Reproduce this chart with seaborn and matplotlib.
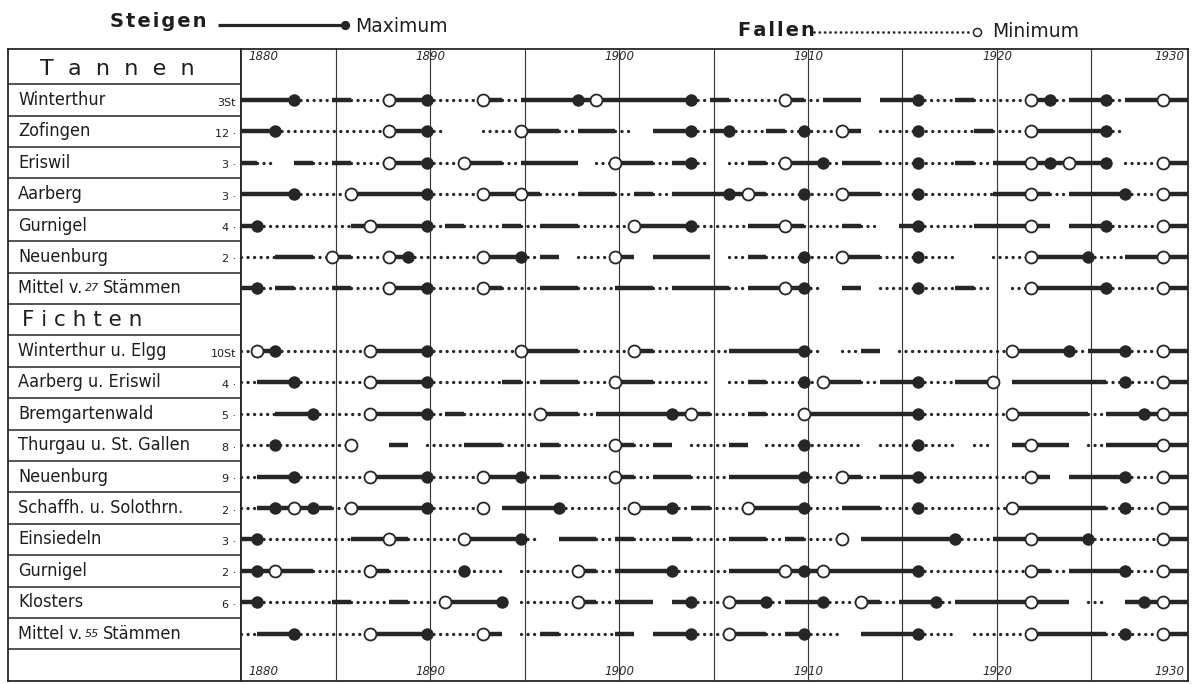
import matplotlib
matplotlib.use("Agg")
import matplotlib.pyplot as plt
import seaborn as sns
import pandas as pd

sns.set_theme(style="white")
plt.rcParams['font.family'] = ['DejaVu Sans']

# ---------------- data ----------------
YEAR0 = 1880
YEAR1 = 1930
tick_years = [1880, 1890, 1900, 1910, 1920, 1930]

tannen_names = ["Winterthur", "Zofingen", "Eriswil", "Aarberg", "Gurnigel",
                "Neuenburg", "Mittel v. 27 Stämmen"]
tannen_counts = ["3St", "12 ·", "3 ·", "3 ·", "4 ·", "2 ·", ""]
# one character per year Y (1880..1930): step ending at year Y
# '-' = Steigen (solid), '.' = Fallen (dotted), '_' = no line
tannen_steps = [
    "---..-..--|...-.-----|----.-...-|.--_--..-.|..-.--.---|-",
    "--......--|.__..--.--|._--.-..-.|..-_.....-|..----.___|_",
    "-._-.-..--|..--.---_.|--.-._.-.-|-.--....-.|------_..-|-",
    "---...----|...---..--|.-.-----..|..--......|---.---..-|-",
    "-.....----|.-..-.--..|.---...---|..-._-...-|---_--...-|-",
    "..--.-..-.|...--.-_..|-_---_.-..|..--....__|..---..---|-",
    "-.-..-..--|...-..--..|--.---.---|._-_....-.|_.----...-|-",
]
tannen_max = [
    [1882, 1889, 1897, 1903, 1915, 1922, 1925],
    [1881, 1889, 1903, 1905, 1909, 1915, 1925],
    [1889, 1903, 1910, 1915, 1922, 1925],
    [1882, 1889, 1905, 1909, 1915, 1926],
    [1880, 1889, 1903, 1915, 1925],
    [1888, 1894, 1909, 1915, 1924],
    [1880, 1889, 1909, 1915, 1925],
]
tannen_min = [
    [1887, 1892, 1898, 1908, 1921, 1928],
    [1887, 1894, 1911, 1921],
    [1887, 1891, 1899, 1908, 1921, 1923, 1928],
    [1885, 1892, 1894, 1906, 1911, 1921, 1928],
    [1886, 1900, 1908, 1921, 1928],
    [1884, 1887, 1892, 1899, 1911, 1921, 1928],
    [1887, 1892, 1908, 1921, 1928],
]

fichten_names = ["Winterthur u. Elgg", "Aarberg u. Eriswil", "Bremgartenwald",
                 "Thurgau u. St. Gallen", "Neuenburg", "Schaffh. u. Solothrn.",
                 "Einsiedeln", "Gurnigel", "Klosters", "Mittel v. 55 Stämmen"]
fichten_counts = ["10St", "4 ·", "5 ·", "8 ·", "9 ·", "2 ·", "3 ·", "2 ·", "6 ·", ""]
fichten_steps = [
    ".-.....---|.....---..|.-....----|._.-_.....|.---.--..-|-",
    ".--....---|....-.--..|--..._.-..|.--.--..--|_-----...-|-",
    "..--...---|.-....--.-|-----..-..|------....|.----.----|-",
    "......__-_|..--..-...|-.-_..-_..|..._...._.|_---_.----|-",
    ".--....---|...--.-...|-.--..----|..-.--....|..-_---..-|-",
    ".----.----|..._---...|.--.-..---|..--......|.-----...-|-",
    "-.....---.|..---._--.|-..-..--.-|.._-----..|-----....-|-",
    "----...-..|...._...-.|---...----|------....|..-.---..-|-",
    "-....-..-.|.---_...-.|--_-..--.-|-..-.--.--|----_._---|-",
    ".--....---|...-_.-...|-_--..--.-|.._---.._.|..----...-|-",
]
fichten_max = [
    [1881, 1889, 1909, 1923, 1926],
    [1882, 1889, 1909, 1915, 1926],
    [1883, 1889, 1902, 1915, 1927],
    [1881, 1909, 1915],
    [1882, 1889, 1894, 1909, 1915, 1926],
    [1881, 1883, 1889, 1896, 1902, 1909, 1915, 1926],
    [1880, 1894, 1917, 1924],
    [1880, 1891, 1902, 1909, 1915, 1926],
    [1880, 1893, 1903, 1907, 1910, 1916, 1927],
    [1882, 1889, 1903, 1909, 1915, 1926],
]
fichten_min = [
    [1880, 1886, 1894, 1900, 1920, 1928],
    [1886, 1899, 1910, 1919, 1928],
    [1886, 1895, 1903, 1909, 1920, 1928],
    [1885, 1899, 1921, 1928],
    [1886, 1892, 1899, 1911, 1921, 1928],
    [1882, 1885, 1892, 1900, 1906, 1920, 1928],
    [1887, 1891, 1911, 1921, 1928],
    [1881, 1886, 1897, 1908, 1910, 1921, 1928],
    [1890, 1897, 1905, 1912, 1921, 1928],
    [1886, 1892, 1905, 1921, 1928],
]

# ---------------- layout helpers ----------------
W, H = 1192, 684
OFF = 0.8            # node position inside a year
XMAX = 1930.1
INK = "#262626"
ROW_A, ROW_B = 68.6, 31.39   # pixel centre of slot k = ROW_A + ROW_B*k
TOP_PX, BOT_PX = 49.0, 681.0
K_TOP = (TOP_PX - ROW_A) / ROW_B
K_BOT = (BOT_PX - ROW_A) / ROW_B
LEFT_PX, MID_PX, RIGHT_PX = 8.0, 241.4, 1187.7

fig = plt.figure(figsize=(W / 100, H / 100), dpi=100)
fig.patch.set_facecolor("white")

def fx(px):
    return px / W

def fy(px):
    return 1 - px / H

ax_lab = fig.add_axes([fx(LEFT_PX), fy(BOT_PX), fx(MID_PX - LEFT_PX), (BOT_PX - TOP_PX) / H])
ax = fig.add_axes([fx(MID_PX), fy(BOT_PX), fx(RIGHT_PX - MID_PX), (BOT_PX - TOP_PX) / H])

for a in (ax_lab, ax):
    a.set_ylim(K_BOT, K_TOP)
    a.set_xticks([])
    a.set_yticks([])
    for s in a.spines.values():
        s.set_visible(True)
        s.set_color(INK)
        s.set_linewidth(1.3)
ax_lab.set_xlim(LEFT_PX, MID_PX)
ax.set_xlim(YEAR0, XMAX)

# vertical grid every 5 years
for yr in range(1885, 1930, 5):
    ax.axvline(yr, color="#3a3a3a", lw=0.85, zorder=1)

# year labels top and bottom
k_top_lab = (57 - ROW_A) / ROW_B
k_bot_lab = (672 - ROW_A) / ROW_B
for yr in tick_years:
    if yr == YEAR0:
        xpos, ha = YEAR0 + 0.35, "left"
    elif yr == YEAR1:
        xpos, ha = XMAX - 0.2, "right"
    else:
        xpos, ha = yr, "center"
    for kk in (k_top_lab, k_bot_lab):
        ax.text(xpos, kk, str(yr), ha=ha, va="center", fontsize=8.5,
                style="italic", color="#2a2a2a")

# left column boxes
for k in range(0, 19):
    ax_lab.axhline(k + 0.5, color=INK, lw=1.1)

def draw_row(k, code):
    code = code.replace("|", "")
    assert len(code) == YEAR1 - YEAR0 + 1, (k, len(code))
    i = 0
    while i < len(code):
        c = code[i]
        j = i
        while j + 1 < len(code) and code[j + 1] == c:
            j += 1
        x0 = max(YEAR0, YEAR0 + i - 1 + OFF)
        x1 = min(XMAX, YEAR0 + j + OFF)
        if c == "-":
            ax.plot([x0, x1], [k, k], color=INK, lw=3.2,
                    solid_capstyle="butt", zorder=2)
        elif c == ".":
            ax.plot([x0, x1], [k, k], color=INK, lw=2.4,
                    linestyle=(0, (0.01, 1.95)), dash_capstyle="round", zorder=2)
        i = j + 1

max_rows, min_rows = [], []
groups = [
    (1, tannen_names, tannen_counts, tannen_steps, tannen_max, tannen_min),
    (9, fichten_names, fichten_counts, fichten_steps, fichten_max, fichten_min),
]
label_font = dict(fontsize=13, fontstretch="condensed", color="#1e1e1e")
fig.canvas.draw()
renderer = fig.canvas.get_renderer()

def put_pieces(k, pieces, x_start):
    x = x_start
    for txt, kw in pieces:
        t = ax_lab.text(x, k, txt, ha="left", va="center", **kw)
        bb = t.get_window_extent(renderer=renderer)
        inv = ax_lab.transData.inverted()
        x = inv.transform((bb.x1, bb.y0))[0] + 3

for start, names, counts, steps, mx, mn in groups:
    for r, (name, cnt, code) in enumerate(zip(names, counts, steps)):
        k = start + r
        draw_row(k, code)
        if name.startswith("Mittel v."):
            num = name.split()[2]
            put_pieces(k, [("Mittel v.", label_font),
                           (num, dict(fontsize=8, style="italic", color="#1e1e1e")),
                           ("Stämmen", label_font)], 18)
        else:
            ax_lab.text(18, k, name, ha="left", va="center", **label_font)
        if cnt:
            ax_lab.text(236, k + 0.08, cnt, ha="right", va="center",
                        fontsize=8, color="#1e1e1e")
        for y in mx[r]:
            max_rows.append({"x": y + OFF, "k": k})
        for y in mn[r]:
            min_rows.append({"x": y + OFF, "k": k})

max_df = pd.DataFrame(max_rows)
min_df = pd.DataFrame(min_rows)
sns.scatterplot(data=max_df, x="x", y="k", ax=ax, s=66, color=INK,
                edgecolor=INK, linewidth=0.8, zorder=4, legend=False)
sns.scatterplot(data=min_df, x="x", y="k", ax=ax, s=74, color="white",
                edgecolor=INK, linewidth=1.3, zorder=4, legend=False)
ax.set_xlabel("")
ax.set_ylabel("")
ax.set_xlim(YEAR0, XMAX)
ax.set_ylim(K_BOT, K_TOP)

# headers
ax_lab.text(117, 0, "T  a  n  n  e  n", ha="center", va="center", fontsize=16,
            color="#1e1e1e")
ax_lab.text(22, 8, "F i c h t e n", ha="left", va="center", fontsize=15.5,
            color="#1e1e1e")

# top legend
ax_leg = fig.add_axes([0, 0, 1, 1])
ax_leg.set_xlim(0, W)
ax_leg.set_ylim(H, 0)
ax_leg.set_axis_off()
hs = "\u200a"
ax_leg.text(110, 27, hs.join("Steigen"), ha="left", va="baseline",
            fontsize=14, fontweight="bold", color="#1e1e1e")
ax_leg.plot([218, 342], [25, 25], color=INK, lw=2.3, solid_capstyle="butt")
ax_leg.scatter([345], [25], s=32, color=INK, zorder=3)
ax_leg.text(355, 32, "Maximum", ha="left", va="baseline", fontsize=13.5,
            color="#1e1e1e")
ax_leg.text(738, 36, hs.join("Fallen"), ha="left", va="baseline",
            fontsize=14, fontweight="bold", color="#1e1e1e")
ax_leg.plot([814, 971], [32, 32], color=INK, lw=2.0,
            linestyle=(0, (0.01, 1.9)), dash_capstyle="round")
ax_leg.scatter([977], [32], s=34, facecolor="white", edgecolor=INK,
               linewidth=1.1, zorder=3)
ax_leg.text(992, 37, "Minimum", ha="left", va="baseline", fontsize=13.5,
            color="#1e1e1e")

fig.savefig("out.png", dpi=100, facecolor="white")
